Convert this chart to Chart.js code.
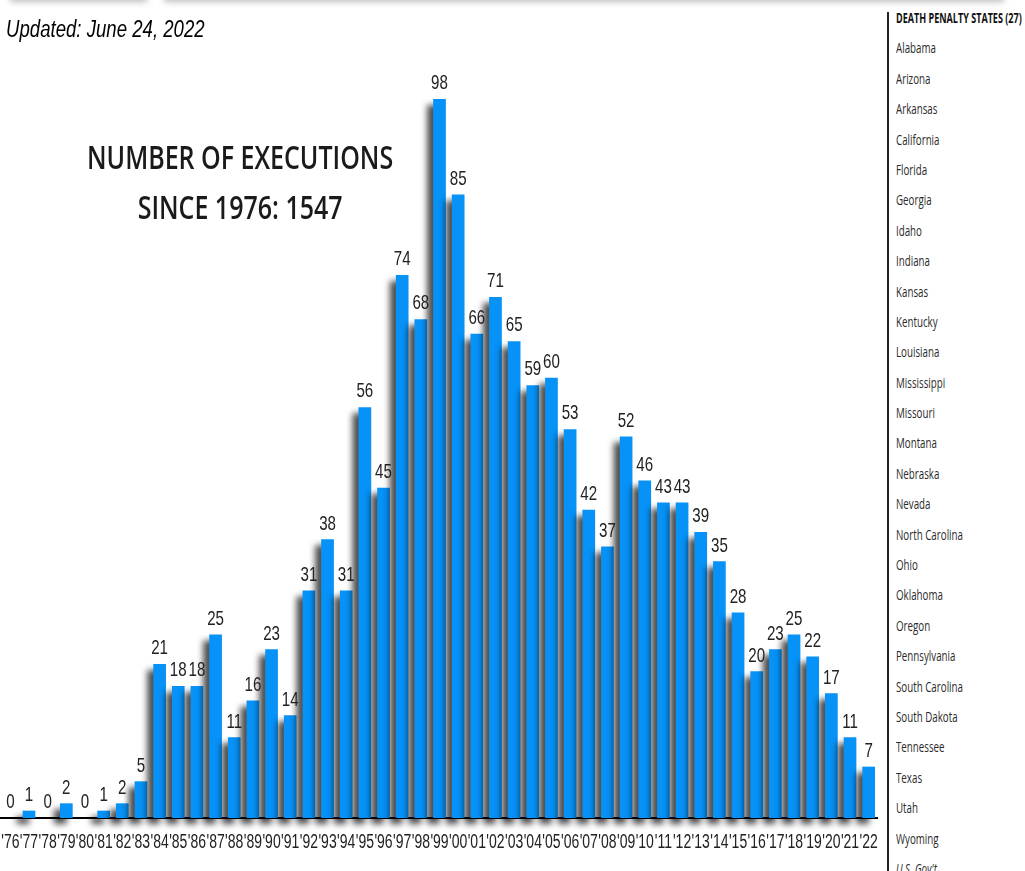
<!DOCTYPE html>
<html>
<head>
<meta charset="utf-8">
<script src="https://cdn.jsdelivr.net/npm/chart.js@4.4.1/dist/chart.umd.min.js"></script>
<style>
  html, body { margin: 0; padding: 0; background: #fff; overflow: hidden; }
  body { width: 1025px; height: 871px; position: relative; }
  #wrap { position: absolute; left: -30px; top: 0; width: 908px; height: 871px; }
  .topbar { position: absolute; top: -20px; height: 20px; background: #fff; box-shadow: 0 2px 6px rgba(0,0,0,0.25); }
  .fit { position: absolute; white-space: nowrap; }
  #updated { left: 6px; top: 16px; font: italic 23px "Liberation Sans", sans-serif; color: #000; transform-origin: 0 0; }
  #title { top: 132px; text-align: center; font: 600 33px "Open Sans", sans-serif; color: #1a1a1a; line-height: 50px; transform-origin: 50% 0; }
  #rule { position: absolute; left: 887px; top: 12px; bottom: 0; width: 2px; background: #222; }
  #states { left: 896px; top: 2px; font: 15px "Open Sans", sans-serif; color: #2a2a2a; }
  #states div { height: 30.4px; line-height: 30.4px; }
  #states span { display: inline-block; transform-origin: 0 50%; }
  #states .head { font-weight: bold; color: #111; }
</style>
</head>
<body>
<div class="topbar" style="left:10px;width:137px"></div>
<div class="topbar" style="left:164px;width:840px"></div>
<div id="wrap"><canvas id="execChart" width="908" height="871"></canvas></div>
<div id="updated" class="fit">Updated: June 24, 2022</div>
<div id="title" class="fit">NUMBER OF EXECUTIONS<br>SINCE 1976: 1547</div>
<div id="rule"></div>
<div id="states" class="fit"></div>
<script>
const years = ["'76","'77","'78","'79","'80","'81","'82","'83","'84","'85","'86","'87","'88","'89","'90","'91",
  "'92","'93","'94","'95","'96","'97","'98","'99","'00","'01","'02","'03","'04","'05","'06","'07","'08","'09",
  "'10","'11","'12","'13","'14","'15","'16","'17","'18","'19","'20","'21","'22"];
const executions = [0,1,0,2,0,1,2,5,21,18,18,25,11,16,23,14,31,38,31,56,45,74,68,98,85,66,71,65,59,60,53,42,
  37,52,46,43,43,39,35,28,20,23,25,22,17,11,7];
const stateList = ['Alabama','Arizona','Arkansas','California','Florida','Georgia','Idaho','Indiana','Kansas',
  'Kentucky','Louisiana','Mississippi','Missouri','Montana','Nebraska','Nevada','North Carolina','Ohio',
  'Oklahoma','Oregon','Pennsylvania','South Carolina','South Dakota','Tennessee','Texas','Utah','Wyoming'];

document.addEventListener('DOMContentLoaded', function() {
    // right-hand list
    const box = document.getElementById('states');
    box.innerHTML = '<div class="head"><span>DEATH PENALTY STATES (27)</span></div>' +
        stateList.map(s => '<div><span>' + s + '</span></div>').join('') +
        '<div style="font-style:italic"><span>U.S. Gov\'t</span></div>';
    const spans = box.querySelectorAll('span');
    const k = 67 / spans[17].offsetWidth;
    spans.forEach((s, i) => {
        s.style.transform = 'scaleX(' + (i === 0 ? 126 / s.offsetWidth : k) + ')';
    });

    // condensed-looking html text
    const upd = document.getElementById('updated');
    upd.style.transform = 'scaleX(' + (199 / upd.offsetWidth) + ')';
    const ttl = document.getElementById('title');
    const tw = ttl.offsetWidth;
    ttl.style.left = (240 - tw / 2) + 'px';
    ttl.style.transform = 'scaleX(' + (306 / tw) + ')';

    const sans = '"Liberation Sans", Arial, sans-serif';

    function narrowText(ctx, text, x, y, sx) {
        ctx.save();
        ctx.translate(x, y);
        ctx.scale(sx, 1);
        ctx.fillText(text, 0, 0);
        ctx.restore();
    }

    // drop shadow behind the bars, value labels on top, year labels below
    const barDecor = {
        id: 'barDecor',
        beforeDatasetsDraw(chart) {
            const ctx = chart.ctx;
            ctx.save();
            ctx.shadowColor = 'rgba(0,0,0,0.7)';
            ctx.shadowOffsetX = -6;
            ctx.shadowOffsetY = 6;
            ctx.shadowBlur = 6;
        },
        afterDatasetsDraw(chart) {
            const ctx = chart.ctx;
            ctx.restore();
            const meta = chart.getDatasetMeta(0);
            const xs = chart.scales.x;
            ctx.save();
            ctx.fillStyle = '#222';
            ctx.textAlign = 'center';
            ctx.textBaseline = 'bottom';
            ctx.font = '21px ' + sans;
            meta.data.forEach((bar, i) => {
                narrowText(ctx, String(executions[i]), bar.x, bar.y - 5, 0.72);
            });
            ctx.textBaseline = 'middle';
            ctx.font = '20px ' + sans;
            years.forEach((lab, i) => {
                narrowText(ctx, lab, xs.getPixelForTick(i), chart.chartArea.bottom + 24, 0.7);
            });
            ctx.restore();
        }
    };

    const ctx = document.getElementById('execChart').getContext('2d');
    new Chart(ctx, {
        type: 'bar',
        data: {
            labels: years,
            datasets: [{
                data: executions,
                backgroundColor: '#0792f7',
                borderWidth: 0,
                barPercentage: 0.68,
                categoryPercentage: 1,
                clip: false
            }]
        },
        options: {
            responsive: false,
            animation: false,
            devicePixelRatio: 1,
            layout: { padding: { left: 31, right: 0, top: 11, bottom: 53 } },
            plugins: { legend: { display: false }, tooltip: { enabled: false } },
            scales: {
                x: {
                    grid: { display: false, drawTicks: false },
                    border: { display: true, color: '#000', width: 2 },
                    ticks: { display: false }
                },
                y: { display: false, min: 0, max: 110 }
            }
        },
        plugins: [barDecor]
    });
});
</script>
</body>
</html>
